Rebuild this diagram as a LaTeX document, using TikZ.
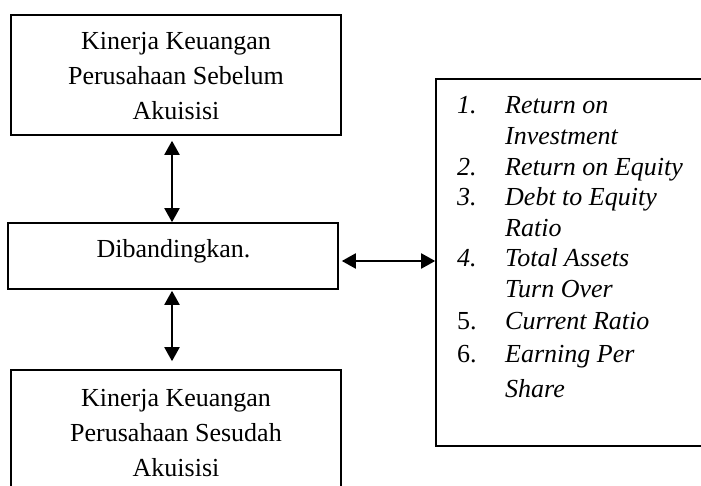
\documentclass[tikz,border=0pt]{standalone}
\usepackage{fontspec}
\setmainfont{Liberation Serif}
\usetikzlibrary{arrows.meta}
\begin{document}
\begin{tikzpicture}[x=1pt,y=-1pt,
  box/.style={draw=black,line width=1.6pt,rectangle,inner sep=0pt},
  txt/.style={inner sep=0pt,anchor=base,font=\fontsize{26}{35}\selectfont},
  conn/.style={line width=2pt,{Triangle[length=14pt,width=15pt]}-{Triangle[length=14pt,width=15pt]}}]
\useasboundingbox (0,0) rectangle (701,486);
\clip (0,0) rectangle (701,486);
% boxes
\node[box,minimum width=330pt,minimum height=120pt] (top) at (176,75) {};
\node[box,minimum width=330pt,minimum height=66pt] (mid) at (173,256) {};
\node[box,minimum width=330pt,minimum height=128pt] (bot) at (176,434) {};
\node[box,minimum width=330pt,minimum height=367pt] (right) at (601,262.5) {};
% texts
\node[txt] (toptxt) at (176,50) {\begin{tabular}[t]{@{}c@{}}Kinerja Keuangan\\Perusahaan Sebelum\\Akuisisi\end{tabular}};
\node[txt] (midtxt) at (173.5,258) {Dibandingkan.};
\node[txt] (bottxt) at (176,406) {\begin{tabular}[t]{@{}c@{}}Kinerja Keuangan\\Perusahaan Sesudah\\Akuisisi\end{tabular}};
\node[inner sep=0pt,anchor=base west,font=\fontsize{26}{30.6}\selectfont] (list) at (457,114)
 {\begin{tabular}[t]{@{}p{48pt}@{}l@{}}
 \textit{1.} & \textit{Return on}\\
  & \textit{Investment}\\
 \textit{2.} & \textit{Return on Equity}\\
 \textit{3.} & \textit{Debt to Equity}\\
  & \textit{Ratio}\\
 \textit{4.} & \textit{Total Assets}\\
  & \textit{Turn Over}\\[1.4pt]
 5. & \textit{Current Ratio}\\[2.4pt]
 6. & \textit{Earning Per}\\[4.4pt]
  & \textit{Share}
 \end{tabular}};
% connectors
\draw[conn,shorten <=5pt] (top.south -| 172,0) -- (mid.north -| 172,0);
\draw[conn,shorten <=1pt,shorten >=8pt] (mid.south -| 172,0) -- (bot.north -| 172,0);
\draw[conn,shorten <=3pt] ([yshift=-5pt]mid.east) -- ([yshift=-5pt]mid.east -| right.west);
\end{tikzpicture}
\end{document}
